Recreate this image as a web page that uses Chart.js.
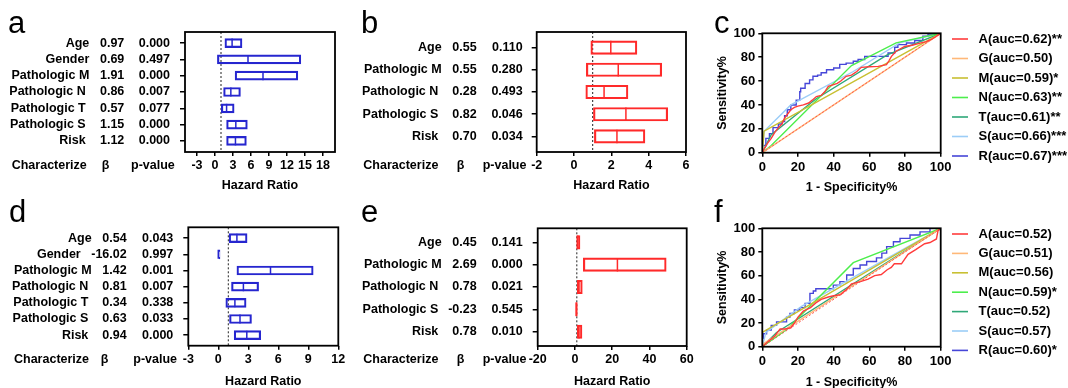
<!DOCTYPE html>
<html>
<head>
<meta charset="utf-8">
<script src="https://cdn.jsdelivr.net/npm/chart.js@4.4.1/dist/chart.umd.min.js"></script>
<style>
  html, body { margin: 0; padding: 0; background: #fff; }
  body { width: 1068px; height: 388px; overflow: hidden; position: relative; }
  canvas { position: absolute; }
</style>
</head>
<body>
<canvas id="ca" width="352" height="196" style="left:0;top:0"></canvas>
<canvas id="cb" width="345" height="196" style="left:355px;top:0"></canvas>
<canvas id="cc" width="368" height="196" style="left:700px;top:0"></canvas>
<canvas id="cd" width="352" height="196" style="left:0;top:195px"></canvas>
<canvas id="ce" width="345" height="196" style="left:355px;top:195px"></canvas>
<canvas id="cf" width="368" height="198" style="left:700px;top:194px"></canvas>
<script>
/* ---- forest plot data (HR boxes) ---- */
const rowsA = ['Age', 'Gender', 'Pathologic M', 'Pathologic N', 'Pathologic T', 'Pathologic S', 'Risk'];
const betaA = ['0.97', '0.69', '1.91', '0.86', '0.57', '1.15', '1.12'];
const pvalA = ['0.000', '0.497', '0.000', '0.007', '0.077', '0.000', '0.000'];
const loA = [1.65, 0.4, 3.35, 1.43, 1.05, 1.93, 1.93];
const hrA = [2.85, 5.5, 8.0, 2.64, 1.93, 3.47, 3.41];
const hiA = [4.5, 14.3, 13.8, 4.24, 3.19, 5.39, 5.23];
const ticksA = [-3, 0, 3, 6, 9, 12, 15, 18];

const rowsB = ['Age', 'Pathologic M', 'Pathologic N', 'Pathologic S', 'Risk'];
const betaB = ['0.55', '0.55', '0.28', '0.82', '0.70'];
const pvalB = ['0.110', '0.280', '0.493', '0.046', '0.034'];
const loB = [0.90, 0.66, 0.63, 1.04, 1.09];
const hrB = [1.97, 2.37, 1.61, 2.78, 2.30];
const hiB = [3.37, 4.70, 2.89, 5.02, 3.80];
const ticksB = [-2, 0, 2, 4, 6];

const rowsD = ['Age', 'Gender', 'Pathologic M', 'Pathologic N', 'Pathologic T', 'Pathologic S', 'Risk'];
const betaD = ['0.54', '-16.02', '1.42', '0.81', '0.34', '0.63', '0.94'];
const pvalD = ['0.043', '0.997', '0.001', '0.007', '0.338', '0.033', '0.000'];
const loD = [1.08, 0, 1.86, 1.32, 0.75, 1.12, 1.59];
const hrD = [1.86, 0, 5.22, 2.51, 1.66, 2.17, 2.85];
const hiD = [2.88, 0.17, 9.49, 4.03, 2.78, 3.32, 4.24];
const ticksD = [-3, 0, 3, 6, 9, 12];

const rowsE = ['Age', 'Pathologic M', 'Pathologic N', 'Pathologic S', 'Risk'];
const betaE = ['0.45', '2.69', '0.78', '-0.23', '0.78'];
const pvalE = ['0.141', '0.000', '0.021', '0.545', '0.010'];
const loE = [0.9, 4.49, 1.26, 0.36, 1.26];
const hrE = [1.57, 22.8, 2.18, 0.79, 2.18];
const hiE = [2.7, 49.0, 3.95, 1.26, 3.77];
const ticksE = [-20, 0, 20, 40, 60];

/* ---- ROC curves: [1-specificity %, sensitivity %] ---- */
const legendC = ['A(auc=0.62)**', 'G(auc=0.50)', 'M(auc=0.59)*', 'N(auc=0.63)**', 'T(auc=0.61)**', 'S(auc=0.66)***', 'R(auc=0.67)***'];
const rocC_A = [[0,0],[1,3],[3,8],[5,12],[7,17],[9,21],[11,24],[12.5,29],[14,32],[16,36],[18,38],[20,39],[23,40],[26,41.6],[28,44],[30.3,47],[33,48],[35,51],[37,55.6],[40,57],[42,58],[44,60],[47,64],[50,65],[53,68],[55.5,71.5],[60,72],[65,72.3],[69.6,73.7],[71,77],[72.4,80.7],[75,85],[79.8,89],[84,90],[89,92],[92,93],[94.8,95],[97,97],[100,100]];
const rocC_G = [[0,0],[100,100]];
const rocC_M = [[0,0],[1,18],[100,100]];
const rocC_N = [[0,0],[5,6],[50,73],[75,92],[100,100]];
const rocC_T = [[0,0],[5,15],[30,45],[70,82],[100,100]];
const rocC_S = [[0,0],[1,18],[16,40],[51,68],[77,92],[100,100]];
const rocC_R = [[0,0],[2,6],[4,12],[6,16],[9,21],[11,24],[12.5,26],[14,31],[16,36],[19,40],[21,44],[21.5,51],[24,54],[26.5,58],[28.4,61],[31,64],[33,65],[36,67],[40,69.5],[43.4,71],[47,74],[51,75],[53.7,76.6],[57.4,78],[61,80.7],[70.5,80.7],[74.2,83.5],[76,88.3],[80.8,90.5],[85.4,91.9],[90,94],[92.9,97.5],[96.6,99.4],[100,100]];

const legendF = ['A(auc=0.52)', 'G(auc=0.51)', 'M(auc=0.56)', 'N(auc=0.59)*', 'T(auc=0.52)', 'S(auc=0.57)', 'R(auc=0.60)*'];
const rocF_A = [[0,0],[3,4],[7,9],[10,15],[13,15],[16,16],[18,20],[20,25],[23,30],[27,33],[30,37],[33,40],[37,42],[40,43],[44,44],[47,48],[50,53],[55,55],[59.3,57],[63,60],[66.7,61],[70,65],[72.3,67],[74,70],[78,70],[81.7,78],[86,82],[91,87],[94,88],[97.6,91],[98.5,98],[100,100]];
const rocF_G = [[0,0],[0,2],[100,100]];
const rocF_M = [[0,0],[0,12],[100,100]];
const rocF_N = [[0,0],[14,15],[51,71],[100,100]];
const rocF_T = [[0,0],[8,12],[100,100]];
const rocF_S = [[0,0],[2,12],[22,34],[100,100]];
const rocF_R = [[0,0],[0.6,7],[2.4,11],[5,14],[8,18],[13.6,21],[15.5,25],[18,28],[21,31],[24,33],[26.7,36.6],[28.6,45],[30,47],[32.3,49],[39.8,49],[43.5,52],[47.3,55],[51,60.6],[54.8,66],[58.5,69],[64,72],[67,75],[69.7,79],[73.5,84.5],[77.2,88.7],[82.8,91.5],[88.4,94.4],[94,97],[100,100]];

const rocColors = ['#ff3b3b', '#ffb878', '#c8c032', '#4cee4c', '#2fa878', '#9ccdf7', '#4646d8'];

/* ---- shared look ---- */
const FONT = '"Liberation Sans", Arial, Helvetica, sans-serif';
Chart.defaults.font.family = FONT;
Chart.defaults.font.weight = 'bold';
Chart.defaults.font.size = 12.5;
Chart.defaults.color = '#000';
Chart.defaults.animation = false;

const framePlugin = {
  id: 'frameBox',
  afterDatasetsDraw(chart) {
    const { ctx, chartArea: a } = chart;
    ctx.save();
    ctx.strokeStyle = '#000';
    ctx.lineWidth = 1.8;
    ctx.strokeRect(a.left, a.top, a.right - a.left, a.bottom - a.top);
    ctx.restore();
  }
};

function drawLetter(ctx, t, x, y) {
  ctx.font = 'normal 31px ' + FONT;
  ctx.textAlign = 'left';
  ctx.textBaseline = 'alphabetic';
  ctx.fillStyle = '#000';
  ctx.fillText(t, x, y);
}

/* ---- forest panels ---- */
function forestChart(id, d, L) {
  const pad = { left: L.L - L.ox - 5, top: L.T - L.oy, right: L.ox + L.w - L.R, bottom: L.oy + L.h - (L.titleY + 7.5) };
  const xh = L.titleY + 7.5 - L.B;

  const textPlugin = {
    id: 'forestText',
    afterDraw(chart) {
      const { ctx } = chart;
      const ys = chart.scales.y, xs = chart.scales.x;
      ctx.save();
      ctx.fillStyle = '#000';
      ctx.font = 'bold 12.5px ' + FONT;
      ctx.textBaseline = 'middle';
      ctx.textAlign = 'right';
      d.rows.forEach((r, i) => {
        const y = ys.getPixelForValue(i + 1);
        ctx.fillText(r, L.labelR[i] - L.ox, y);
        ctx.fillText(d.beta[i], L.betaR - L.ox, y);
        ctx.fillText(d.pval[i], L.pR - L.ox, y);
      });
      const hy = xs.top + 14;
      ctx.textAlign = 'left';
      ctx.fillText('Characterize', L.head[0] - L.ox, hy);
      ctx.fillText('β', L.head[1] - L.ox, hy);
      ctx.fillText('p-value', L.head[2] - L.ox, hy);
      drawLetter(ctx, L.letter, L.letterX - L.ox, L.letterY - L.oy);
      ctx.restore();
    }
  };

  return new Chart(document.getElementById(id), {
    type: 'bar',
    data: {
      datasets: [
        {
          type: 'bar', indexAxis: 'y',
          data: d.rows.map((r, i) => ({ y: i + 1, x: [d.lo[i], d.hi[i]] })),
          backgroundColor: 'rgba(255,255,255,0)', borderColor: d.color,
          borderWidth: 1.5, borderSkipped: false, barThickness: L.bar
        },
        {
          type: 'scatter',
          data: d.rows.map((r, i) => ({ x: d.hr[i], y: i + 1 })),
          pointStyle: 'line', pointRotation: 90, pointRadius: L.bar / 2,
          pointBorderColor: d.color, pointBorderWidth: 1.5, pointHoverRadius: L.bar / 2
        },
        {
          type: 'line',
          data: [{ x: 1, y: L.yMin }, { x: 1, y: L.yMax }],
          borderColor: '#222', borderWidth: 1, borderDash: [2, 2], pointRadius: 0
        }
      ]
    },
    options: {
      responsive: false,
      animation: false,
      events: [],
      layout: { padding: pad },
      plugins: { legend: { display: false }, tooltip: { enabled: false } },
      scales: {
        x: {
          type: 'linear', min: L.xMin, max: L.xMax, offset: false,
          afterBuildTicks: s => { s.ticks = d.ticks.map(v => ({ value: v })); },
          afterFit: s => { s.height = xh; },
          grid: { offset: false, drawOnChartArea: false, drawTicks: true, tickLength: 4, color: '#000', lineWidth: 1.5 },
          border: { display: false },
          ticks: { padding: 2.5, autoSkip: false, maxRotation: 0, color: '#000', font: { size: 12.5, weight: 'bold' }, callback: v => String(v) },
          title: { display: true, text: 'Hazard Ratio', padding: 0, color: '#000', font: { size: 12.5, weight: 'bold' } }
        },
        y: {
          type: 'linear', reverse: true, min: L.yMin, max: L.yMax, offset: false,
          afterBuildTicks: s => { s.ticks = d.rows.map((r, i) => ({ value: i + 1 })); },
          afterFit: s => { s.width = 5; },
          grid: { offset: false, drawOnChartArea: false, drawTicks: true, tickLength: 5, color: '#000', lineWidth: 1.5 },
          border: { display: false },
          ticks: { display: false }
        }
      }
    },
    plugins: [framePlugin, textPlugin]
  });
}

/* ---- ROC panels ---- */
function rocChart(id, curves, legend, L) {
  const sLeft = L.yTitleX - 7.5;
  const pad = { left: sLeft - L.ox, top: L.T - L.oy, right: L.ox + L.w - L.R, bottom: L.oy + L.h - (L.titleY + 7.5) };
  const yw = L.L - sLeft;
  const xh = L.titleY + 7.5 - L.B;

  const datasets = curves.map((c, i) => ({
    label: legend[i],
    data: c.map(([x, y]) => ({ x, y })),
    borderColor: rocColors[i], backgroundColor: rocColors[i],
    borderWidth: 1.4, pointRadius: 0, tension: 0, fill: false,
    stepped: i === 6 ? 'after' : false
  }));
  datasets.push({
    label: 'ref', data: [{ x: 0, y: 0 }, { x: 100, y: 100 }],
    borderColor: '#ff5050', borderWidth: 1, borderDash: [2, 2], pointRadius: 0, order: -1
  });

  const legendPlugin = {
    id: 'rocLegend',
    afterDraw(chart) {
      const { ctx } = chart;
      ctx.save();
      ctx.font = 'bold 13px ' + FONT;
      ctx.textBaseline = 'middle';
      ctx.textAlign = 'left';
      ctx.fillStyle = '#000';
      legend.forEach((t, i) => {
        const y = L.legY - L.oy + i * L.legStep;
        const x = L.legX - L.ox;
        ctx.strokeStyle = rocColors[i];
        ctx.lineWidth = 1.6;
        ctx.beginPath(); ctx.moveTo(x, y); ctx.lineTo(x + 16, y); ctx.stroke();
        ctx.fillText(t, x + 26.5, y);
      });
      drawLetter(ctx, L.letter, L.letterX - L.ox, L.letterY - L.oy);
      ctx.restore();
    }
  };

  const axisFont = { size: 13, weight: 'bold' };
  return new Chart(document.getElementById(id), {
    type: 'line',
    data: { datasets },
    options: {
      responsive: false,
      animation: false,
      events: [],
      layout: { padding: pad },
      plugins: { legend: { display: false }, tooltip: { enabled: false } },
      scales: {
        x: {
          type: 'linear', min: 0, max: 100,
          ticks: { stepSize: 20, padding: 3, maxRotation: 0, color: '#000', font: axisFont },
          afterFit: s => { s.height = xh; },
          grid: { drawOnChartArea: false, drawTicks: true, tickLength: 4, color: '#000', lineWidth: 1.5 },
          border: { display: false },
          title: { display: true, text: '1 - Specificity%', padding: 0, color: '#000', font: { size: 12.5, weight: 'bold' } }
        },
        y: {
          type: 'linear', min: 0, max: 100,
          ticks: { stepSize: 20, padding: 3, color: '#000', font: axisFont },
          afterFit: s => { s.width = yw; },
          grid: { drawOnChartArea: false, drawTicks: true, tickLength: 4, color: '#000', lineWidth: 1.5 },
          border: { display: false },
          title: { display: true, text: 'Sensitivity%', padding: 0, color: '#000', font: { size: 12.5, weight: 'bold' } }
        }
      }
    },
    plugins: [framePlugin, legendPlugin]
  });
}

const BLUE = '#2626cf', RED = '#ff2a2a';

forestChart('ca',
  { rows: rowsA, beta: betaA, pval: pvalA, lo: loA, hr: hrA, hi: hiA, ticks: ticksA, color: BLUE },
  { ox: 0, oy: 0, w: 352, h: 196, L: 185, T: 32, R: 335, B: 152, titleY: 185.7,
    xMin: -5, xMax: 20, yMin: 0.32, yMax: 7.68, bar: 9,
    labelR: [89.3, 89.3, 89.3, 85.7, 85.7, 85.7, 85.7], betaR: 124.3, pR: 170, head: [11.7, 101.7, 131],
    letter: 'a', letterX: 8, letterY: 33 });

forestChart('cb',
  { rows: rowsB, beta: betaB, pval: pvalB, lo: loB, hr: hrB, hi: hiB, ticks: ticksB, color: RED },
  { ox: 355, oy: 0, w: 345, h: 196, L: 536.7, T: 32, R: 686, B: 152, titleY: 185.7,
    xMin: -2, xMax: 6, yMin: 0.3, yMax: 5.7, bar: 13.5,
    labelR: [441.7, 441.7, 438.3, 438.3, 438.3], betaR: 476.7, pR: 522.7, head: [363.3, 456.7, 482.7],
    letter: 'b', letterX: 361, letterY: 33 });

rocChart('cc',
  [rocC_A, rocC_G, rocC_M, rocC_N, rocC_T, rocC_S, rocC_R], legendC,
  { ox: 700, oy: 0, w: 368, h: 196, L: 762.3, T: 33.3, R: 940.7, B: 152.7, titleY: 187.7, yTitleX: 722.7,
    legX: 952, legY: 39, legStep: 19.5, letter: 'c', letterX: 714, letterY: 33.3 });

forestChart('cd',
  { rows: rowsD, beta: betaD, pval: pvalD, lo: loD, hr: hrD, hi: hiD, ticks: ticksD, color: BLUE },
  { ox: 0, oy: 195, w: 352, h: 196, L: 188.3, T: 227.3, R: 338.3, B: 345.7, titleY: 381.7,
    xMin: -3, xMax: 12, yMin: 0.33, yMax: 7.65, bar: 9,
    labelR: [91.7, 80.7, 91.7, 88.3, 88.3, 88.3, 88.3], betaR: 126.7, pR: 173.3, head: [14, 100.7, 133.3],
    letter: 'd', letterX: 9, letterY: 221.7 });

forestChart('ce',
  { rows: rowsE, beta: betaE, pval: pvalE, lo: loE, hr: hrE, hi: hiE, ticks: ticksE, color: RED },
  { ox: 355, oy: 195, w: 345, h: 196, L: 537.7, T: 228.3, R: 686.7, B: 346, titleY: 381.7,
    xMin: -20, xMax: 60, yMin: 0.37, yMax: 5.64, bar: 13.5,
    labelR: [441.7, 441.7, 438.3, 438.3, 438.3], betaR: 476.7, pR: 522.7, head: [363.3, 456.7, 482.7],
    letter: 'e', letterX: 361, letterY: 221.7 });

rocChart('cf',
  [rocF_A, rocF_G, rocF_M, rocF_N, rocF_T, rocF_S, rocF_R], legendF,
  { ox: 700, oy: 194, w: 368, h: 198, L: 762.3, T: 228.3, R: 940.7, B: 346.7, titleY: 382.7, yTitleX: 722.7,
    legX: 952, legY: 234, legStep: 19.4, letter: 'f', letterX: 714, letterY: 221.7 });
</script>
</body>
</html>
